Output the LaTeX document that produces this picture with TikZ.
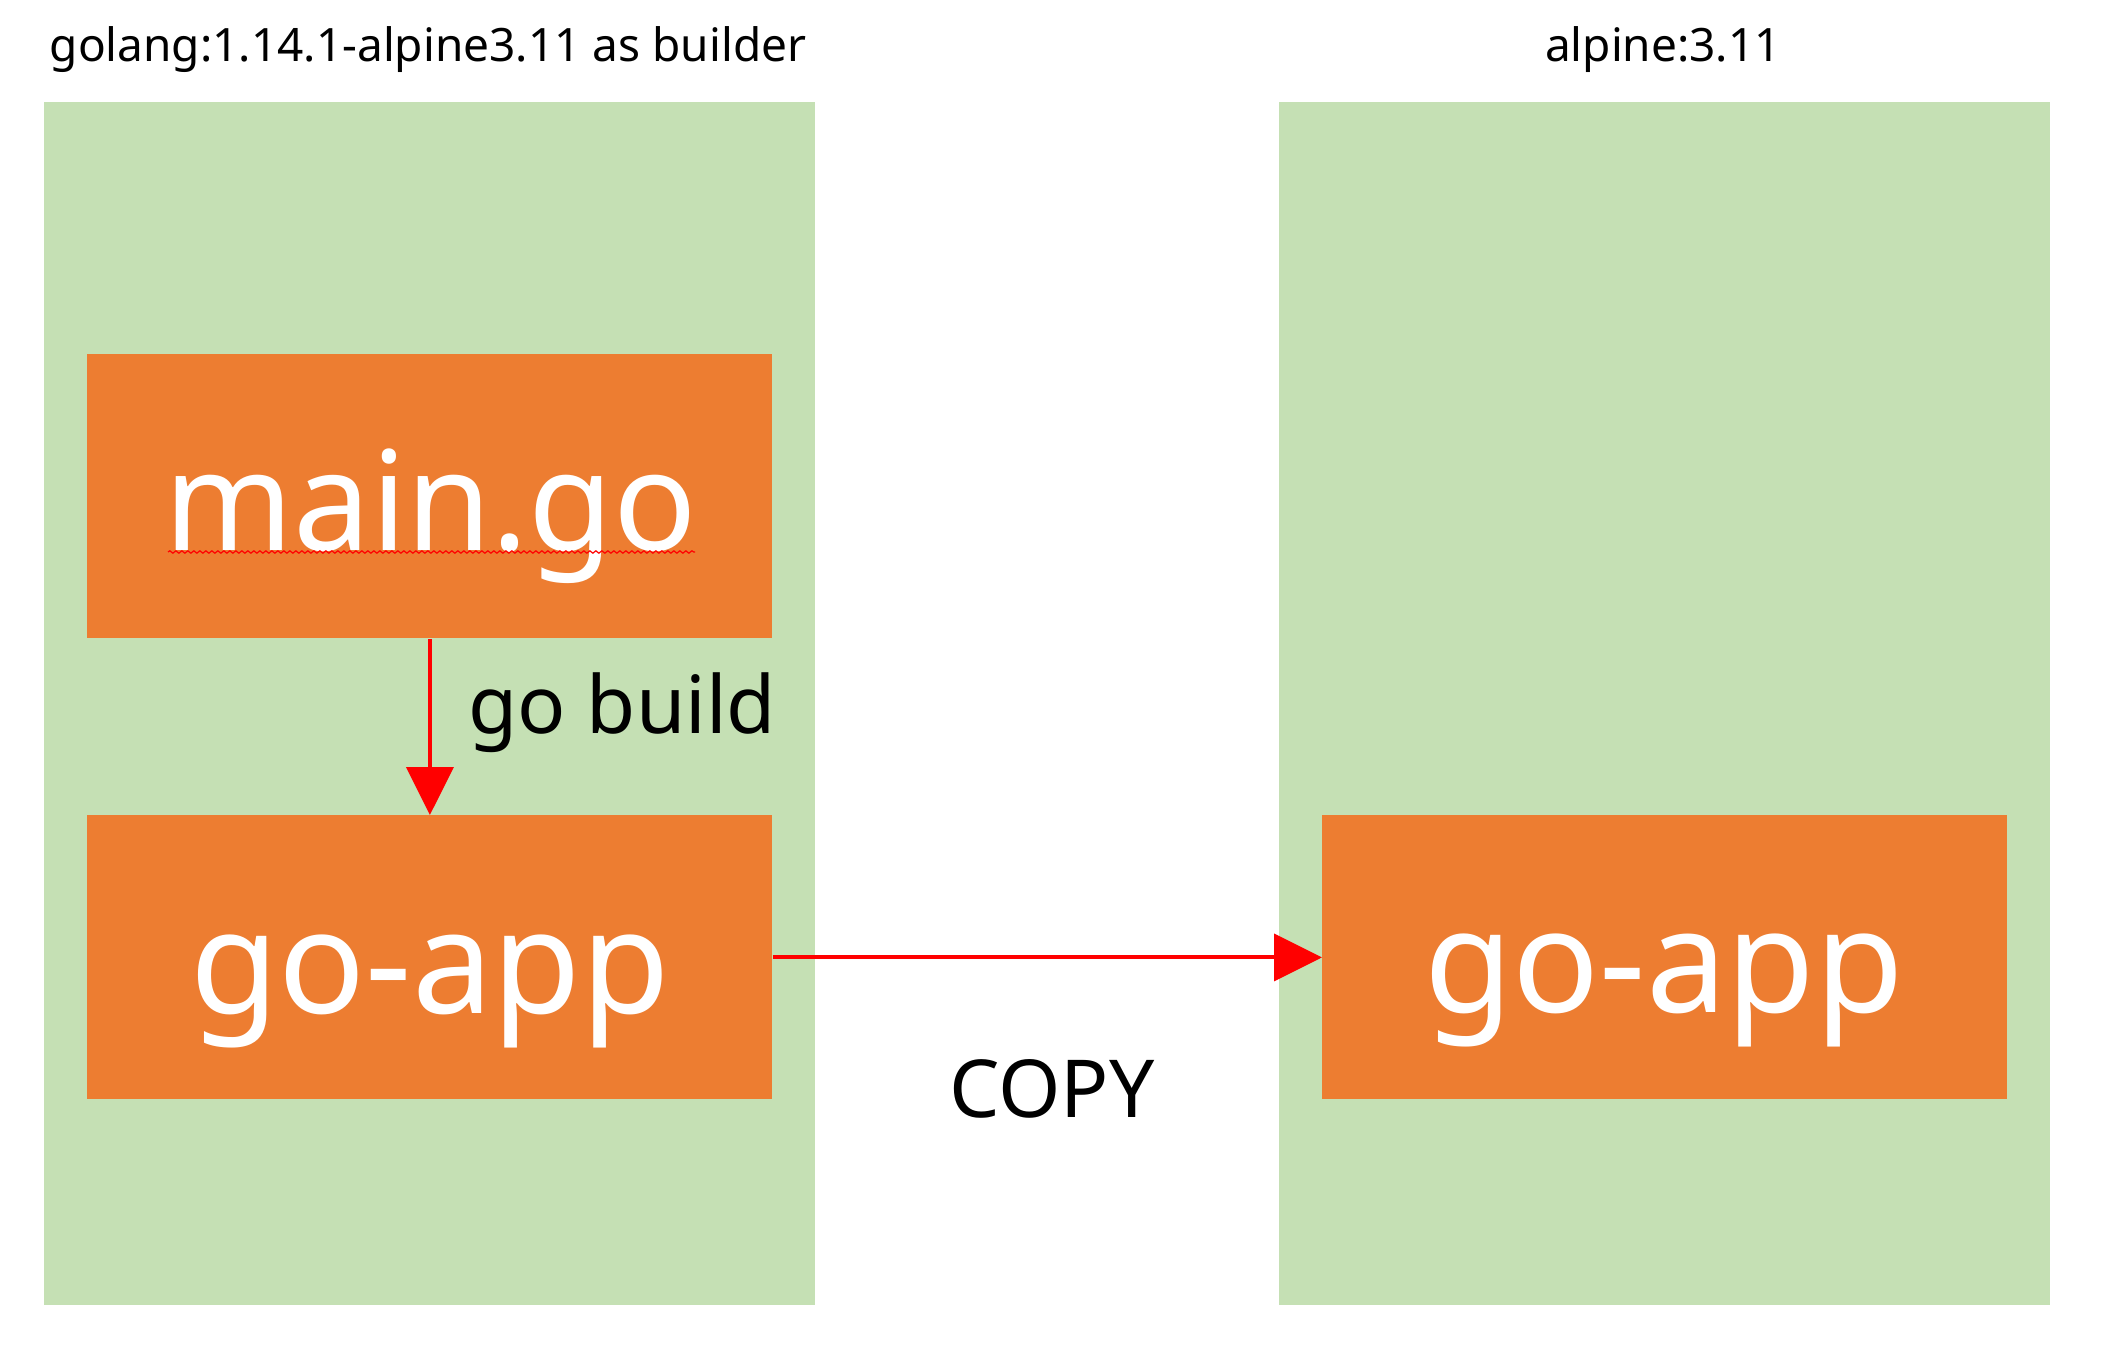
\documentclass[tikz,border=0pt]{standalone}
\usepackage{fontspec}
\setmainfont{Noto Sans}
\usetikzlibrary{arrows.meta,decorations.pathmorphing}
\definecolor{panelgreen}{HTML}{C5E0B4}
\definecolor{boxorange}{HTML}{ED7D31}
\definecolor{arrowred}{HTML}{FF0000}
\tikzset{
  panel/.style={fill=panelgreen,draw=none,inner sep=0pt,anchor=north west},
  filebox/.style={fill=boxorange,draw=none,inner sep=0pt,anchor=north west},
  bigtext/.style={text=white,inner sep=0pt,anchor=base,font=\fontsize{72pt}{80pt}\selectfont},
  titletext/.style={text=black,inner sep=0pt,anchor=base,font=\fontsize{23pt}{28pt}\selectfont},
  labeltext/.style={text=black,inner sep=0pt,font=\fontsize{40pt}{48pt}\selectfont},
  flow/.style={draw=arrowred,line width=2pt,-{Triangle[length=24pt,width=23.5pt]}},
}
\begin{document}
\begin{tikzpicture}[x=0.5pt,y=-0.5pt]
\useasboundingbox[fill=white] (0,0) rectangle (2109,1358);
% panels
\node[panel,minimum width=385.5pt,minimum height=601.5pt] (left) at (44,102) {};
\node[panel,minimum width=385.5pt,minimum height=601.5pt] (right) at (1279,102) {};
% titles
\node[titletext] (t1) at (428,62) {golang:1.14.1-alpine3.11 as builder};
\node[titletext] (t2) at (1663,62) {alpine:3.11};
% boxes
\node[filebox,minimum width=342.5pt,minimum height=142pt] (main) at (87,354) {};
\node[filebox,minimum width=342.5pt,minimum height=142pt] (app1) at (87,815) {};
\node[filebox,minimum width=342.5pt,minimum height=142pt] (app2) at (1322,815) {};
% box texts
\node[bigtext,font=\fontsize{69pt}{78pt}\selectfont] (maintxt) at (431,550) {main.go};
\node[bigtext] (app1txt) at (430,1013) {go-app};
\node[bigtext] (app2txt) at (1664,1012) {go-app};
% spell-check squiggle
\coordinate (sqa) at (168,552);
\coordinate (sqb) at (695,552);
\draw[arrowred,line width=0.6pt,decorate,decoration={snake,amplitude=0.6pt,segment length=3pt}] (sqa) -- (sqb);
% connectors
\draw[flow] (main.south) -- (app1.north);
\draw[flow] (app1.east) -- (app2.west);
% labels
\node[labeltext,anchor=base west] (gobuild) at (468,733) {go build};
\node[labeltext,anchor=base] (copy) at (1052,1117) {COPY};
\end{tikzpicture}
\end{document}
